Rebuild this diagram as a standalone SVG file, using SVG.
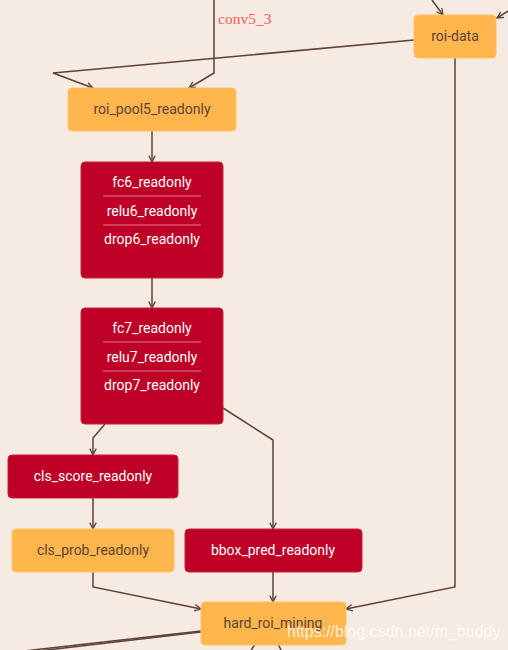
<svg xmlns="http://www.w3.org/2000/svg" width="508" height="650" viewBox="0 0 508 650">
<defs>
<style>
.bg{fill:#F6EBE2}
.o rect{fill:#FFB74D;stroke:#FFC266;stroke-width:1}
.r rect{fill:#BF0026;stroke:#C8203F;stroke-width:1}
.o text{fill:#5D4037;font-family:Roboto,"Liberation Sans",sans-serif;font-size:14px;text-anchor:middle}
.r text{fill:#FFFFFF;font-family:Roboto,"Liberation Sans",sans-serif;font-size:14px;text-anchor:middle}
.sep{stroke:#E57A8A;stroke-width:1}
#edges path{fill:none;stroke:#5D4037;stroke-width:1.5}
.lbl{fill:#FF5A5A;font-family:"Liberation Serif","DejaVu Serif",serif;font-size:15.5px}
.wm{fill:#FFFFFF;fill-opacity:0.75;font-family:"Liberation Sans",Arial,sans-serif;font-size:16px}
</style>
<marker id="arr" viewBox="0 0 10 10" refX="9" refY="5" markerWidth="8" markerHeight="8" orient="auto" markerUnits="userSpaceOnUse">
<path d="M1,1 L9,5 L1,9" fill="none" stroke="#5D4037" stroke-width="1.6"/>
</marker>
</defs>
<rect class="bg" x="0" y="0" width="508" height="650"/>
<g id="edges">
<path d="M214,0 V73 L189,88" marker-end="url(#arr)"/>
<path d="M414,40 L53,73 L93,88" marker-end="url(#arr)"/>
<path d="M432,0 L443,15" marker-end="url(#arr)"/>
<path d="M510,10 L497,18" marker-end="url(#arr)"/>
<path d="M455,58 V587 L346,609" marker-end="url(#arr)"/>
<path d="M152,131 V162" marker-end="url(#arr)"/>
<path d="M152,278 V308" marker-end="url(#arr)"/>
<path d="M105,424 L93,438 V455" marker-end="url(#arr)"/>
<path d="M223,408 L273,440 V529" marker-end="url(#arr)"/>
<path d="M93,498 V529" marker-end="url(#arr)"/>
<path d="M93,572 V587 L201,609" marker-end="url(#arr)"/>
<path d="M273,572 V602" marker-end="url(#arr)"/>
<path d="M201,631 L15,652"/>
<path d="M201,632 L30,652"/>
<path d="M255,644 L250,652"/>
<path d="M278,644 L282,652"/>
</g>
<text class="lbl" x="218" y="24">conv5_3</text>
<g id="roi-data" class="o"><rect x="414" y="15" width="82" height="43" rx="4"/><text x="455" y="41">roi-data</text></g>
<g id="roi_pool5_readonly" class="o"><rect x="68" y="88" width="168" height="43" rx="4"/><text x="152" y="114">roi_pool5_readonly</text></g>
<g id="fc6_group" class="r"><rect x="81" y="162" width="142" height="116" rx="4"/>
<text x="152" y="187">fc6_readonly</text>
<line class="sep" x1="103" y1="196" x2="201" y2="196"/>
<text x="152" y="216">relu6_readonly</text>
<line class="sep" x1="103" y1="225" x2="201" y2="225"/>
<text x="152" y="244">drop6_readonly</text></g>
<g id="fc7_group" class="r"><rect x="81" y="308" width="142" height="116" rx="4"/>
<text x="152" y="333">fc7_readonly</text>
<line class="sep" x1="103" y1="342" x2="201" y2="342"/>
<text x="152" y="362">relu7_readonly</text>
<line class="sep" x1="103" y1="371" x2="201" y2="371"/>
<text x="152" y="390">drop7_readonly</text></g>
<g id="cls_score_readonly" class="r"><rect x="8" y="455" width="170" height="43" rx="4"/><text x="93" y="481">cls_score_readonly</text></g>
<g id="cls_prob_readonly" class="o"><rect x="12" y="529" width="162" height="43" rx="4"/><text x="93" y="555">cls_prob_readonly</text></g>
<g id="bbox_pred_readonly" class="r"><rect x="185" y="529" width="177" height="43" rx="4"/><text x="273" y="555">bbox_pred_readonly</text></g>
<g id="hard_roi_mining" class="o"><rect x="201" y="602" width="145" height="43" rx="4"/><text x="273" y="628">hard_roi_mining</text></g>
<text class="wm" x="287" y="637">https://blog.csdn.net/m_buddy</text>
</svg>
